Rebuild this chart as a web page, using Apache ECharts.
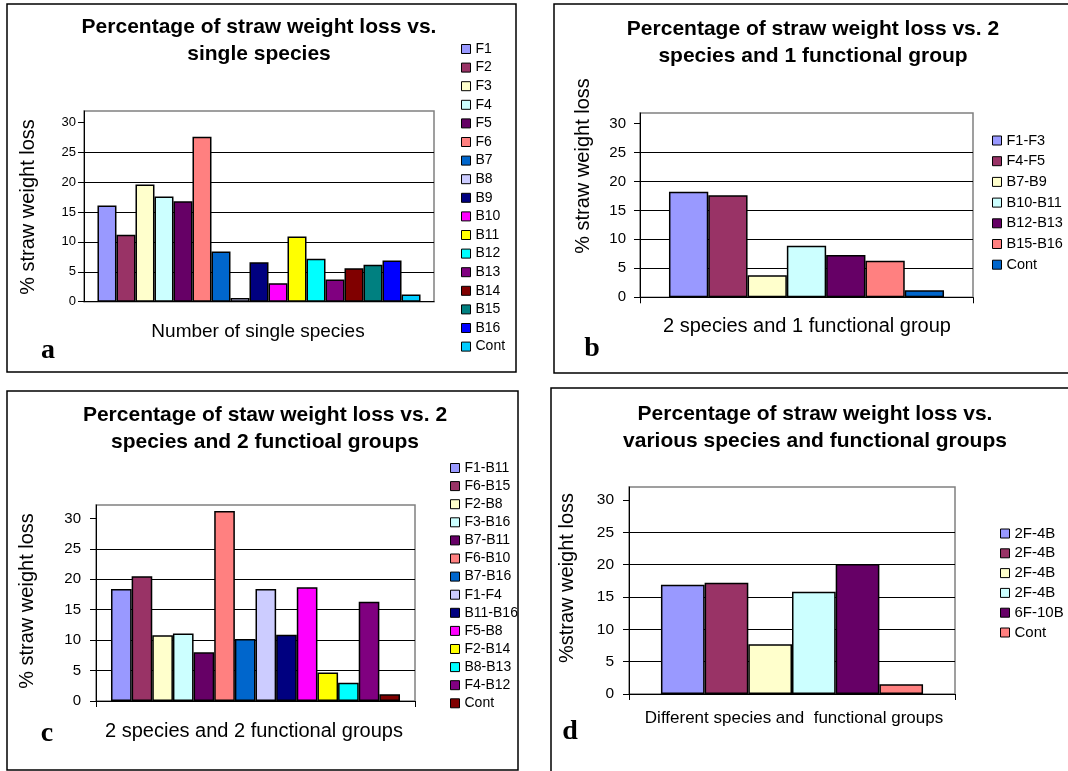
<!DOCTYPE html>
<html>
<head>
<meta charset="utf-8">
<script src="https://cdn.jsdelivr.net/npm/echarts@6/dist/echarts.min.js"></script>
<style>
  html, body { margin: 0; padding: 0; background: #fff; }
  #chart { width: 1068px; height: 771px; }
</style>
</head>
<body>
<div id="chart"></div>
<script>
// Straw weight loss (%) for each inoculum
const singleNames = ['F1','F2','F3','F4','F5','F6','B7','B8','B9','B10','B11','B12','B13','B14','B15','B16','Cont'];
const singleValues = [16.1, 11.2, 19.6, 17.6, 16.8, 27.6, 8.4, 0.6, 6.6, 3.1, 10.9, 7.2, 3.7, 5.6, 6.2, 6.9, 1.2];

const pairOneGroupNames = ['F1-F3','F4-F5','B7-B9','B10-B11','B12-B13','B15-B16','Cont'];
const pairOneGroupValues = [18.2, 17.6, 3.8, 8.9, 7.3, 6.3, 1.2];

const pairTwoGroupNames = ['F1-B11','F6-B15','F2-B8','F3-B16','B7-B11','F6-B10','B7-B16','F1-F4','B11-B16','F5-B8','F2-B14','B8-B13','F4-B12','Cont'];
const pairTwoGroupValues = [18.4, 20.5, 10.8, 11.1, 8.0, 31.2, 10.2, 18.4, 10.9, 18.7, 4.7, 3.0, 16.3, 1.1];

const mixedNames = ['2F-4B','2F-4B','2F-4B','2F-4B','6F-10B','Cont'];
const mixedValues = [16.9, 17.2, 7.7, 15.8, 20.1, 1.5];

const yTickValues = [0, 5, 10, 15, 20, 25, 30];

// Excel-style fill palette, used in series order
const palette = ['#9999FF','#993366','#FFFFCC','#CCFFFF','#660066','#FF8080','#0066CC','#CCCCFF',
                 '#000080','#FF00FF','#FFFF00','#00FFFF','#800080','#800000','#008080','#0000FF','#00CCFF'];

const SANS = '"Liberation Sans", Arial, sans-serif';
const SERIF = '"Liberation Serif", "Times New Roman", serif';

const panels = [
  { names: singleNames, values: singleValues,
    grid: { left: 84, top: 111, width: 350, height: 190.7 }, max: 31.9, gap: '7.7%',
    xTick: false, labelSize: 13, labelMargin: 8,
    legend: { left: 461, top: 42, itemGap: 4.6, fontSize: 14 } },
  { names: pairOneGroupNames, values: pairOneGroupValues,
    grid: { left: 640, top: 113, width: 333, height: 184.3 }, max: 31.8, gap: '17.4%',
    xTick: true, labelSize: 15, labelMargin: 14,
    legend: { left: 992, top: 133, itemGap: 5.7, fontSize: 14.5 } },
  { names: pairTwoGroupNames, values: pairTwoGroupValues,
    grid: { left: 96, top: 505, width: 319, height: 196 }, max: 32.2, gap: '9.4%',
    xTick: true, labelSize: 15, labelMargin: 15,
    legend: { left: 450, top: 461, itemGap: 4.1, fontSize: 14 } },
  { names: mixedNames, values: mixedValues,
    grid: { left: 629, top: 487, width: 326, height: 207 }, max: 32.0, gap: '19.6%',
    xTick: true, labelSize: 15.5, labelMargin: 15,
    legend: { left: 1000, top: 526, itemGap: 4.8, fontSize: 15 } }
];

const grids = [], xAxes = [], yAxes = [], legends = [], series = [];

panels.forEach((p, k) => {
  grids.push(Object.assign({
    show: true, borderColor: '#808080', borderWidth: 1.5, backgroundColor: 'transparent'
  }, p.grid));

  xAxes.push({
    type: 'category', gridIndex: k, data: [''],
    axisLine: { lineStyle: { color: '#000', width: 1 } },
    axisTick: { show: p.xTick, length: 6, lineStyle: { color: '#000' } },
    axisLabel: { show: false }
  });

  yAxes.push({
    type: 'value', gridIndex: k, min: 0, max: p.max,
    axisLine: { show: true, lineStyle: { color: '#000', width: 1 } },
    axisTick: { show: true, length: 6, customValues: yTickValues, lineStyle: { color: '#000' } },
    axisLabel: { customValues: yTickValues, margin: p.labelMargin, fontSize: p.labelSize,
                 color: '#000', fontFamily: SANS },
    splitLine: { show: true, showMaxLine: false, lineStyle: { color: '#000', width: 1 } }
  });

  const ids = [];
  p.names.forEach((name, i) => {
    const id = k + ':' + i + ':' + name;
    ids.push(id);
    series.push({
      type: 'bar', name: id, xAxisIndex: k, yAxisIndex: k,
      data: [p.values[i]],
      barGap: '0%', barCategoryGap: p.gap,
      itemStyle: { color: palette[i], borderColor: '#000', borderWidth: 1.5 },
      emphasis: { disabled: true }, silent: true
    });
  });

  legends.push({
    orient: 'vertical', left: p.legend.left, top: p.legend.top, padding: 0,
    itemWidth: 9, itemHeight: 9, itemGap: p.legend.itemGap, icon: 'rect',
    selectedMode: false, data: ids,
    formatter: n => n.split(':').slice(2).join(':'),
    itemStyle: { borderColor: '#000', borderWidth: 1 },
    textStyle: { fontSize: p.legend.fontSize, fontFamily: SANS, color: '#000', lineHeight: 14 }
  });
});

function label(x, y, text, font, rotate) {
  return {
    type: 'text', x: x, y: y, rotation: rotate ? Math.PI / 2 : 0, silent: true,
    style: { text: text, font: font, fill: '#000', align: 'center', verticalAlign: 'middle',
             textAlign: 'center', textVerticalAlign: 'middle', lineHeight: 27 }
  };
}
function frame(x, y, w, h) {
  return { type: 'rect', silent: true, z: -1, shape: { x: x, y: y, width: w, height: h },
           style: { fill: 'none', stroke: '#000', lineWidth: 1.5 } };
}

const TITLE = 'bold 21px ' + SANS;
const AXIS = '20px ' + SANS;
const LETTER = 'bold 28px ' + SERIF;

const graphics = [
  frame(7, 4, 509, 368), frame(554, 4, 530, 369), frame(7, 391, 511, 379), frame(551, 388, 540, 400),

  label(259, 40.5, 'Percentage of straw weight loss vs.\nsingle species', TITLE),
  label(813, 42.5, 'Percentage of straw weight loss vs. 2\nspecies and 1 functional group', TITLE),
  label(265, 429, 'Percentage of staw weight loss vs. 2\nspecies and 2 functioal groups', TITLE),
  label(815, 428, 'Percentage of straw weight loss vs.\nvarious species and functional groups', TITLE),

  label(28, 207, '% straw weight loss', AXIS, true),
  label(583, 166, '% straw weight loss', AXIS, true),
  label(27, 601, '% straw weight loss', AXIS, true),
  label(567, 578, '%straw weight loss', AXIS, true),

  label(258, 332, 'Number of single species', '19px ' + SANS),
  label(807, 326, '2 species and 1 functional group', AXIS),
  label(254, 731, '2 species and 2 functional groups', AXIS),
  label(794, 718, 'Different species and  functional groups', '17px ' + SANS),

  label(48, 351, 'a', LETTER),
  label(592, 349, 'b', LETTER),
  label(47, 734, 'c', LETTER),
  label(570, 732, 'd', LETTER)
];

const chart = echarts.init(document.getElementById('chart'), null, { renderer: 'canvas' });
chart.setOption({
  animation: false,
  backgroundColor: '#fff',
  grid: grids,
  xAxis: xAxes,
  yAxis: yAxes,
  legend: legends,
  series: series,
  graphic: graphics
});
</script>
</body>
</html>
